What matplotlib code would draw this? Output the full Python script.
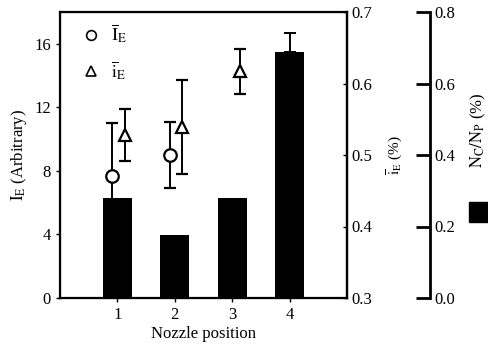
import matplotlib
matplotlib.use("Agg")
import matplotlib.pyplot as plt
from matplotlib.lines import Line2D
from matplotlib.patches import Rectangle

plt.rcParams['font.family'] = ['Liberation Serif', 'DejaVu Serif']
plt.rcParams['mathtext.fontset'] = 'stix'

positions = [1, 2, 3, 4]
tick_labels = ['1', '2', '3', '4']

# Bars: N_C/N_P (%)
nc_np = [0.28, 0.175, 0.28, 0.688]
nc_np_err = [0.0, 0.0, 0.0, 0.053]

# Circles: I_E (Arbitrary), positions 1-2
ie_pos = [1, 2]
ie_vals = [7.7, 9.0]
ie_err = [3.3, 2.1]

# Triangles: i_E (%), positions 1-3
iie_pos = [1, 2, 3]
iie_vals = [0.528, 0.539, 0.617]
iie_err = [0.036, 0.066, 0.031]

fig = plt.figure(figsize=(4.88, 3.52), dpi=100)
ax = fig.add_axes([60/488, 1-298/352, 287/488, 286/352])
ax2 = ax.twinx()
ax3 = ax.twinx()

lw = 1.6
# host axis: I_E
ax.errorbar([p - 0.09 for p in ie_pos], ie_vals, yerr=ie_err, fmt='o', ms=9,
            mfc='white', mec='black', mew=1.6, ecolor='black', elinewidth=1.4,
            capsize=4, capthick=1.4, zorder=3)
ax.set_xlim(0, 5)
ax.set_ylim(0, 18)
ax.set_yticks([0, 4, 8, 12, 16])
ax.set_xticks(positions)
ax.set_xticklabels(tick_labels)
ax.set_xlabel('Nozzle position', fontsize=12, labelpad=2)
ax.set_ylabel(r'$\mathrm{I_E}$ (Arbitrary)', fontsize=12, labelpad=4)
ax.tick_params(axis='both', labelsize=12, direction='out', length=3, width=1)
for s in ax.spines.values():
    s.set_linewidth(lw)

# ax2: i_E
ax2.errorbar([p + 0.13 for p in iie_pos], iie_vals, yerr=iie_err, fmt='^', ms=9,
             mfc='white', mec='black', mew=1.6, ecolor='black', elinewidth=1.4,
             capsize=4, capthick=1.4, zorder=3)
ax2.set_ylim(0.3, 0.7)
ax2.set_yticks([0.3, 0.4, 0.5, 0.6, 0.7])
ax2.set_yticklabels(['0.3', '0.4', '0.5', '0.6', '0.7'])
ax2.tick_params(axis='y', labelsize=12, direction='in', length=3, width=1)
ax2.set_ylabel(r'$\overline{\mathrm{i}}_\mathrm{E}$ (%)', fontsize=11, labelpad=9)
ax2.spines['right'].set_linewidth(lw)

# ax3: N_C/N_P bars
ax3.bar(positions, nc_np, width=0.5, color='black', zorder=2)
ax3.errorbar([positions[3]], [nc_np[3]], yerr=[[0], [nc_np_err[3]]], fmt='none',
             ecolor='black', elinewidth=1.4, capsize=4, capthick=1.4)
ax3.set_ylim(0, 0.8)
ax3.set_yticks([0.0, 0.2, 0.4, 0.6, 0.8])
ax3.set_yticklabels(['0.0', '0.2', '0.4', '0.6', '0.8'])
ax3.spines['right'].set_position(('axes', (430-60)/287))
ax3.spines['right'].set_linewidth(2)
for k in ['top', 'left', 'bottom']:
    ax3.spines[k].set_visible(False)
ax3.tick_params(axis='y', labelsize=12, direction='in', length=10, width=2, pad=3)

fig.text(478/488, 1-130/352, r'$\mathrm{N_C/N_P}$ (%)', rotation=90,
         fontsize=12, ha='center', va='center')
fig.patches.append(Rectangle((469/488, 1-222/352), 19/488, 20/352,
                             transform=fig.transFigure, color='black'))

handles = [Line2D([], [], marker='o', ls='none', mfc='white', mec='black', mew=1.2, ms=7),
           Line2D([], [], marker='^', ls='none', mfc='white', mec='black', mew=1.2, ms=7)]
ax.legend(handles, [r'$\overline{\mathrm{I}}_\mathrm{E}$', r'$\overline{\mathrm{i}}_\mathrm{E}$'],
          loc='upper left', bbox_to_anchor=(0.02, 1.02), frameon=False, fontsize=13,
          handlelength=1.0, labelspacing=0.75, handletextpad=0.6)

fig.savefig('out.png', dpi=100)
